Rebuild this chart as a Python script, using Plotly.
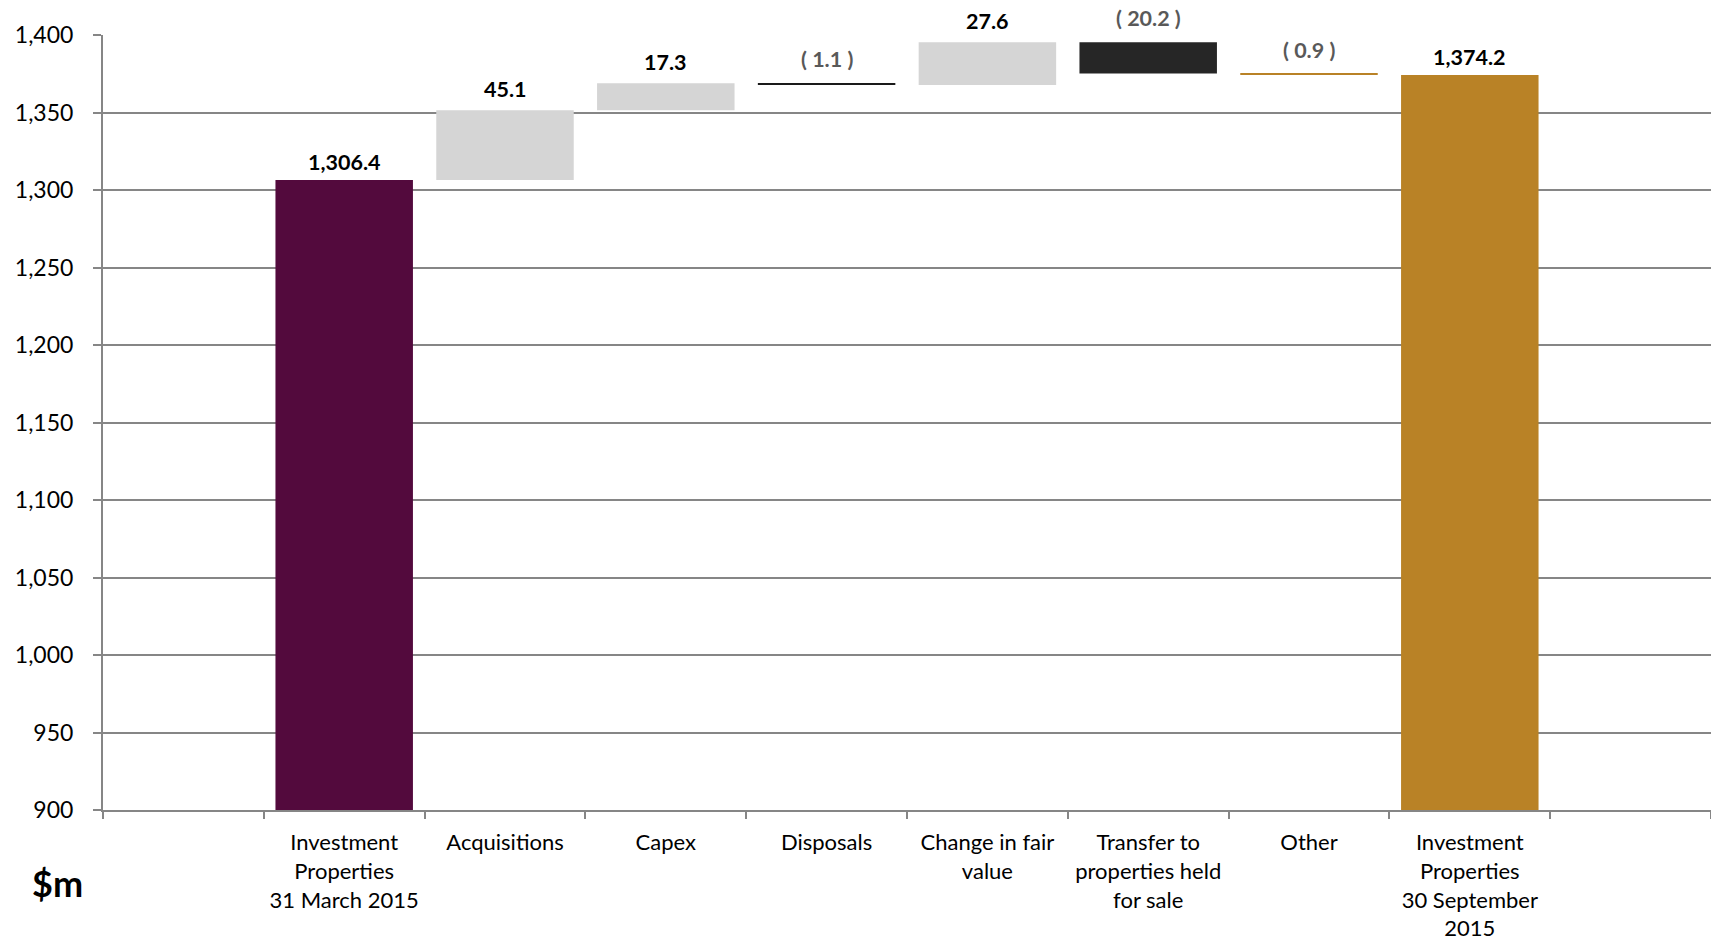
import plotly.graph_objects as go

# Movement in investment properties, $m
categories = [
    "Investment<br>Properties<br>31 March 2015",
    "Acquisitions",
    "Capex",
    "Disposals",
    "Change in fair<br>value",
    "Transfer to<br>properties held<br>for sale",
    "Other",
    "Investment<br>Properties<br>30 September<br>2015",
]
values = [1306.4, 45.1, 17.3, -1.1, 27.6, -20.2, -0.9, 1374.2]
is_total = [True, False, False, False, False, False, False, True]
colors = ["#530A3D", "#D5D5D5", "#D5D5D5", "#1A1A1A", "#D5D5D5", "#262626", "#B98226", "#B98226"]
y_ticks = [900, 950, 1000, 1050, 1100, 1150, 1200, 1250, 1300, 1350, 1400]

# blank padding categories either side of the bridge
pad_left, pad_right = " ", "  "
x_all = [pad_left] + categories + [pad_right]

# floating bars: each step starts where the running total left off
bases, heights, running = [], [], 0.0
for v, tot in zip(values, is_total):
    if tot:
        bases.append(0.0)
        heights.append(v)
        running = v
    else:
        bases.append(running)
        heights.append(v)
        running += v

FONT = "Lato, Carlito, 'Open Sans', sans-serif"

fig = go.Figure()
fig.add_trace(go.Bar(
    x=categories,
    y=heights,
    base=bases,
    marker=dict(color=colors, line=dict(width=0)),
    width=0.855,
    hoverinfo="skip",
    showlegend=False,
))

for cat, b, h, v, tot in zip(categories, bases, heights, values, is_total):
    top = max(b, b + h)
    if v >= 0:
        txt, col = f"{v:,.1f}", "#000000"
        shift = 3 if tot else 6
    else:
        txt, col, shift = f"( {abs(v):.1f} )", "#595959", 9
    fig.add_annotation(
        x=cat, y=top, text=f"<b>{txt}</b>", showarrow=False,
        yanchor="bottom", yshift=shift,
        font=dict(family=FONT, size=21.5, color=col),
    )

fig.add_annotation(
    x=-0.028, y=-0.094, xref="paper", yref="paper", text="<b>$m</b>",
    showarrow=False, xanchor="center", yanchor="middle",
    font=dict(family=FONT, size=36, color="#000000"),
)

fig.update_layout(
    width=1711, height=940,
    margin=dict(l=103, r=0, t=35, b=130),
    paper_bgcolor="white", plot_bgcolor="white",
    font=dict(family=FONT, size=22, color="#000000"),
)
fig.update_xaxes(
    type="category", categoryorder="array", categoryarray=x_all,
    range=[-0.5, len(x_all) - 0.5],
    tickson="boundaries", ticks="outside", ticklen=7, tickwidth=2, tickcolor="#868686",
    ticklabelstandoff=12,
    showline=True, linecolor="#868686", linewidth=2,
    showgrid=False, tickfont=dict(family=FONT, size=22, color="#000000"),
)
fig.update_yaxes(
    range=[900, 1400], tickvals=y_ticks, tickformat=",",
    ticks="outside", ticklen=8, tickwidth=2, tickcolor="#868686",
    ticklabelstandoff=15,
    showline=True, linecolor="#868686", linewidth=2,
    showgrid=True, gridcolor="#868686", gridwidth=2,
    zeroline=False, tickfont=dict(family=FONT, size=23, color="#000000"),
)
fig.update_traces(cliponaxis=False)

fig.write_html("out.html")
